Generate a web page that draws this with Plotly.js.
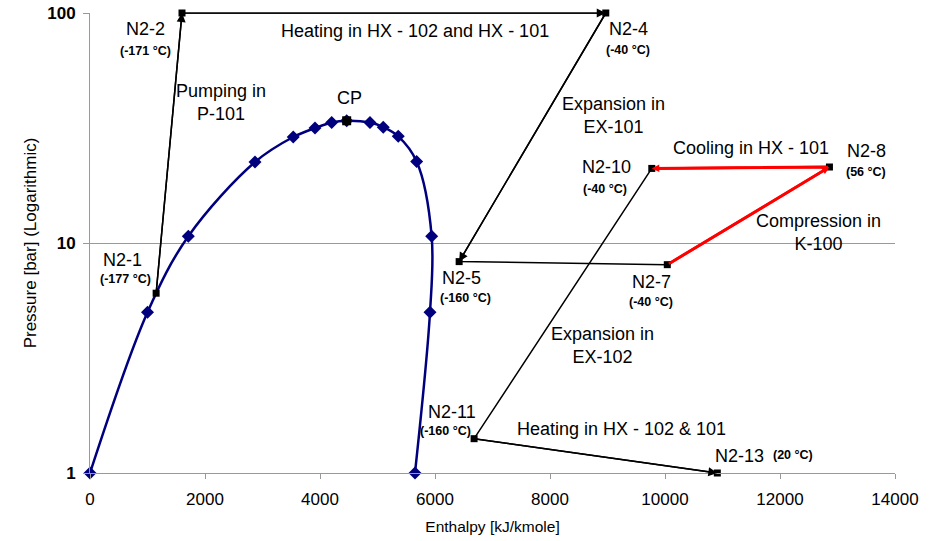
<!DOCTYPE html>
<html>
<head>
<meta charset="utf-8">
<script src="https://cdn.plot.ly/plotly-3.0.1.min.js"></script>
<style>html,body{margin:0;padding:0;background:#fff;}#chart{width:930px;height:541px;}</style>
</head>
<body>
<div id="chart"></div>
<script>
// Saturation dome of nitrogen (enthalpy kJ/kmole, pressure bar)
const domeH = [0, 1000, 1710, 2870, 3535, 3913, 4203, 4464, 4869, 5100, 5361, 5681, 5942, 5913, 5652];
const domeP = [1, 5.0, 10.7, 22.5, 28.9, 31.6, 33.4, 34.0, 33.4, 31.9, 29.1, 22.6, 10.7, 5.0, 1];

// Critical point
const cpH = [4464];
const cpP = [34.0];
const cpLabel = 'CP';

// Cycle state points
const stateNames = ['N2-1', 'N2-2', 'N2-4', 'N2-5', 'N2-7', 'N2-8', 'N2-10', 'N2-11', 'N2-13'];
const stateH = [1150, 1600, 8970, 6420, 10040, 12860, 9770, 6680, 10910];
const stateP = [6.05, 100, 100, 8.3, 8.05, 21.4, 21.1, 1.41, 1.0];
const stateT = ['(-177 °C)', '(-171 °C)', '(-40 °C)', '(-160 °C)', '(-40 °C)', '(56 °C)', '(-40 °C)', '(-160 °C)', '(20 °C)'];

// Process paths (indices into state arrays)
const blackPath1 = [0, 1, 2, 3, 4];
const redPath = [4, 5, 6];
const blackPath2 = [6, 7, 8];
// Segments that carry an arrowhead [from, to]
const arrowSegs = [[0, 1], [1, 2], [2, 3], [4, 5], [5, 6], [7, 8]];

// Process descriptions
const processText = ['Heating in HX - 102 and HX - 101', 'Pumping in<br>P-101', 'Expansion in<br>EX-101',
  'Cooling in HX - 101', 'Compression in<br>K-100', 'Expansion in<br>EX-102', 'Heating in HX - 102 & 101'];

// Axis ticks
const xTicks = [0, 2000, 4000, 6000, 8000, 10000, 12000, 14000];
const xTickText = ['0', '2000', '4000', '6000', '8000', '10000', '12000', '14000'];
const yTicks = [1, 10, 100];
const yTickText = ['1', '10', '100'];

const FONT = 'Liberation Sans, Arial, sans-serif';
const pick = (arr, idx) => idx.map(i => arr[i]);
const lg = Math.log10;

const traces = [
  {x: domeH, y: domeP, mode: 'lines+markers', type: 'scatter', cliponaxis: false,
   line: {color: '#00007f', width: 2.5, shape: 'spline', smoothing: 1},
   marker: {symbol: 'diamond', size: 10, color: '#00007f'}, hoverinfo: 'x+y'},
  {x: pick(stateH, blackPath1), y: pick(stateP, blackPath1), mode: 'lines', type: 'scatter', cliponaxis: false,
   line: {color: '#000', width: 1.5}},
  {x: pick(stateH, blackPath2), y: pick(stateP, blackPath2), mode: 'lines', type: 'scatter', cliponaxis: false,
   line: {color: '#000', width: 1.5}},
  {x: pick(stateH, redPath), y: pick(stateP, redPath), mode: 'lines', type: 'scatter', cliponaxis: false,
   line: {color: '#ff0000', width: 3}},
  {x: stateH, y: stateP, mode: 'markers', type: 'scatter', cliponaxis: false,
   marker: {symbol: 'square', size: 7, color: '#000'}, text: stateNames},
  {x: cpH, y: cpP, mode: 'markers', type: 'scatter', cliponaxis: false,
   marker: {symbol: 'square', size: 9, color: '#000'}, text: [cpLabel]}
];

const annotations = [];
// arrowheads
arrowSegs.forEach(([a, b]) => {
  const red = redPath.includes(a) && redPath.includes(b);
  annotations.push({
    x: stateH[b], y: lg(stateP[b]), ax: stateH[a], ay: lg(stateP[a]),
    xref: 'x', yref: 'y', axref: 'x', ayref: 'y', text: '', showarrow: true,
    arrowhead: 2, arrowsize: red ? 0.6 : 1.2, arrowwidth: red ? 2.5 : 1.5,
    arrowcolor: red ? '#ff0000' : '#000', standoff: 0
  });
});

const mainFont = {family: FONT, size: 18, color: '#000'};
const tFont = {family: FONT, size: 12.5, color: '#000', weight: 'bold'};
function lab(text, x, ly, font) {
  annotations.push({x: x, y: ly, xref: 'x', yref: 'y', text: text, showarrow: false,
    xanchor: 'center', yanchor: 'middle', font: font});
}
// label positions in data units (x, log10 y)
const nameLabPos = [[570, 0.926], [960, 1.93], [9360, 1.93], [6460, 0.846], [9770, 0.829], [13500, 1.398], [8980, 1.332], [6300, 0.266], [11290, 0.075]];
const tempLabPos = [[610, 0.845], [960, 1.835], [9360, 1.84], [6530, 0.763], [9750, 0.742], [13500, 1.309], [8960, 1.235], [6190, 0.181], [12230, 0.077]];
stateNames.forEach((n, i) => {
  lab(n, nameLabPos[i][0], nameLabPos[i][1], mainFont);
  lab(stateT[i], tempLabPos[i][0], tempLabPos[i][1], tFont);
});
lab(cpLabel, 4520, 1.632, mainFont);
const procPos = [[5650, 1.923], [2280, 1.612], [9110, 1.556], [11490, 1.414], [12670, 1.047], [8920, 0.553], [9250, 0.192]];
processText.forEach((t, i) => lab(t, procPos[i][0], procPos[i][1], mainFont));

const layout = {
  width: 930, height: 541,
  margin: {l: 90, r: 35, t: 13, b: 68},
  paper_bgcolor: '#fff', plot_bgcolor: '#fff',
  showlegend: false,
  font: {family: FONT, color: '#000'},
  xaxis: {
    range: [0, 14000], tickmode: 'array', tickvals: xTicks, ticktext: xTickText,
    showgrid: false, zeroline: false, showline: true, linecolor: '#999', linewidth: 1,
    ticks: 'outside', ticklen: 5, tickcolor: '#999', ticklabelstandoff: 6,
    tickfont: {family: FONT, size: 17, color: '#000'},
    title: {text: 'Enthalpy [kJ/kmole]', font: {family: FONT, size: 15.5, color: '#000'}, standoff: 12}
  },
  yaxis: {
    type: 'log', range: [0, 2], tickmode: 'array', tickvals: yTicks, ticktext: yTickText,
    showgrid: true, gridcolor: '#999', gridwidth: 1, zeroline: false,
    showline: true, linecolor: '#999', linewidth: 1,
    ticks: 'outside', ticklen: 6, tickcolor: '#999', ticklabelstandoff: 4,
    tickfont: {family: FONT, size: 17, color: '#000', weight: 'bold'},
    title: {text: 'Pressure [bar] (Logarithmic)', font: {family: FONT, size: 17, color: '#000'}, standoff: 6}
  },
  annotations: annotations
};

Plotly.newPlot('chart', traces, layout, {displayModeBar: false, staticPlot: true});
</script>
</body>
</html>
